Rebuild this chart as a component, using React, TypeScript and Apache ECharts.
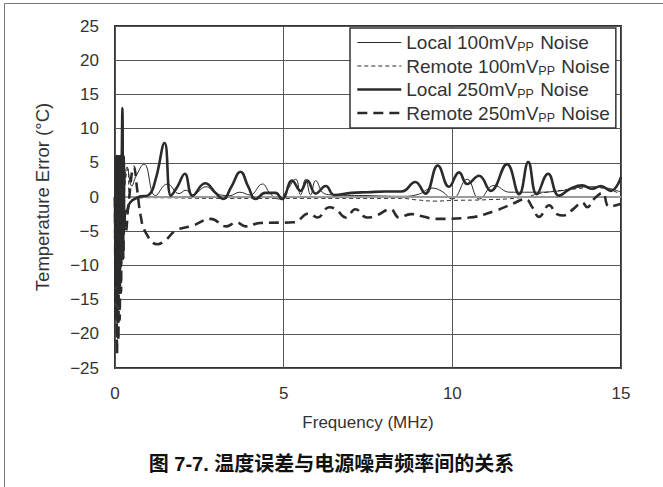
import React, { useEffect, useRef } from "react";
import * as echarts from "echarts";

// ---- data (frequency in MHz, temperature error in °C) ----
const local100F = [0, 0.02, 0.04, 0.06, 0.08, 0.1, 0.12, 0.14, 0.16, 0.18, 0.2, 0.24, 0.28, 0.36, 0.5, 0.62, 0.86, 1.2, 1.55, 1.9, 2.1, 2.3, 2.7, 3.0, 3.4, 3.7, 4.0, 4.37, 4.6, 4.86, 5.1, 5.36, 5.5, 5.65, 5.8, 5.95, 6.2, 6.5, 7.5, 8.5, 9.0, 9.4, 9.7, 10.0, 10.44, 10.8, 11.24, 11.7, 12.5, 13.2, 14.0, 14.6, 15];
const local100V = [0, -5, 4, -15, 3, -12, 5, -8, 4, -6, 3, -3, 1, 4.4, 1.6, 3, 4.8, 0.2, 1.9, 0.5, 1.0, 0.3, 1.5, 0.5, 0.2, 0.7, 0.3, 1.9, 0.5, -0.3, 1.0, 2.6, 0.3, 2.6, 0.3, 2.4, 0.5, 0.3, 0.2, 0.1, 0.4, 1.3, 0.8, -0.3, 2.6, -0.3, 1.7, 0.7, 0.7, 0.9, 1.5, 1.3, 0.7];

const remote100F = [0, 0.02, 0.04, 0.06, 0.08, 0.1, 0.12, 0.14, 0.16, 0.18, 0.22, 0.26, 0.3, 0.38, 0.45, 0.6, 1.0, 3.0, 6.0, 8.5, 8.9, 9.5, 10.0, 11.0, 12.0, 12.8, 13.5, 14.2, 14.7, 15];
const remote100V = [0, -8, 3, -20, 2, -17, 4, -12, 3, -8, 2, -3, 2, 4.1, -1, -0.2, -0.1, -0.2, -0.2, -0.2, -0.4, -0.6, -0.5, -0.4, -0.1, 0.7, 1.1, 1.4, 1.0, 0.4];

const local250F = [0, 0.02, 0.04, 0.06, 0.08, 0.1, 0.12, 0.14, 0.16, 0.18, 0.2, 0.22, 0.24, 0.26, 0.28, 0.3, 0.36, 0.45, 0.7, 1.0, 1.2, 1.47, 1.66, 1.85, 2.07, 2.3, 2.67, 3.0, 3.2, 3.45, 3.72, 3.95, 4.17, 4.45, 4.76, 4.95, 5.25, 5.5, 5.7, 5.95, 6.25, 6.5, 7.0, 7.5, 8.0, 8.5, 8.9, 9.2, 9.57, 9.9, 10.2, 10.44, 10.79, 11.14, 11.62, 11.98, 12.25, 12.5, 12.84, 13.16, 13.5, 13.85, 14.15, 14.4, 14.7, 15];
const local250V = [0, -12, 6, -14, 6, -13, 6, -11, 6, -8, 5, 13, -9, 6, -4, -2.2, -2, -0.8, 0, 0.3, 2.5, 7.9, 0.2, 1.5, 3.4, 0.2, 2.0, 0.5, -0.3, 1.5, 3.7, 1.5, -0.3, 0.6, 0.6, -0.3, 2.4, 0.9, 2.4, 0.5, 1.6, 0.3, 0.6, 0.7, 0.8, 0.8, 2.2, 0.5, 4.6, 1.5, 3.6, 1.9, 3.1, 0.9, 4.8, 0.4, 5.1, 0.4, 3.4, 0.2, 1.2, 1.7, 1.2, 1.6, 0.9, 2.9];

const remote250F = [0, 0.02, 0.04, 0.06, 0.08, 0.1, 0.12, 0.14, 0.16, 0.18, 0.2, 0.24, 0.28, 0.32, 0.4, 0.56, 0.66, 0.76, 0.9, 1.25, 1.5, 1.8, 2.3, 2.84, 3.3, 3.6, 3.87, 4.3, 5.3, 5.75, 6.0, 6.35, 6.55, 6.84, 7.13, 7.47, 7.75, 8.17, 8.42, 8.77, 9.1, 9.5, 10.5, 11.28, 11.78, 12.17, 12.37, 12.57, 12.87, 13.1, 13.3, 13.6, 13.85, 14.0, 14.2, 14.45, 14.65, 15];
const remote250V = [0, -18, 2, -23, 0, -21, 1, -18, -2, -14, -3, -9, -3, -5, -1, 4.4, 1, -2.7, -5.1, -6.9, -6.3, -4.9, -4.2, -3.2, -4.3, -3.7, -4.3, -3.8, -3.7, -2.4, -3.0, -1.5, -1.8, -3.0, -1.8, -3.0, -2.7, -1.8, -3.0, -2.5, -2.8, -3.2, -3.0, -2.0, -1.0, -0.3, -1.5, -2.9, -1.2, -2.5, -2.7, -1.7, -0.8, -1.5, -0.3, 0.6, -1.4, -1.0];

const seriesPrefixes = ["Local 100mV", "Remote 100mV", "Local 250mV", "Remote 250mV"];
const xTickLabels = ["0", "5", "10", "15"];
const yTickValues = [-25, -20, -15, -10, -5, 0, 5, 10, 15, 20, 25];

const zip = (f: number[], v: number[]) => f.map((x, i) => [x, v[i]]);

const FONT = "'Liberation Sans', Arial, Helvetica, sans-serif";

export default function App() {
  const ref = useRef<HTMLDivElement>(null);
  useEffect(() => {
    if (!ref.current) return;
    const chart = echarts.init(ref.current, undefined, { renderer: "svg" });
    const names = seriesPrefixes.map((p) => p + "PP Noise");
    const styles = [
      { width: 1, type: "solid" as const },
      { width: 1, type: [4, 3] as any },
      { width: 2.6, type: "solid" as const },
      { width: 2.6, type: [10, 6] as any },
    ];
    const datas = [
      zip(local100F, local100V),
      zip(remote100F, remote100V),
      zip(local250F, local250V),
      zip(remote250F, remote250V),
    ];
    const series: any[] = names.map((n, i) => ({
      name: n,
      type: "line",
      data: datas[i],
      smooth: 0.45,
      symbol: "none",
      showSymbol: false,
      lineStyle: { color: "#2b2b2b", width: styles[i].width, type: styles[i].type },
      itemStyle: { color: "#2b2b2b" },
      z: 3 + i,
      ...(i === 0
        ? {
            markLine: {
              silent: true,
              symbol: ["none", "none"],
              label: { show: false },
              lineStyle: { color: "#9a9a9a", width: 2, type: "solid" },
              data: [{ yAxis: 0 }],
            },
          }
        : {}),
    }));

    chart.setOption({
      animation: false,
      backgroundColor: "#fff",
      title: {
        text: "图 7-7. 温度误差与电源噪声频率间的关系",
        left: "center",
        top: 449,
        textStyle: {
          fontFamily: "'Liberation Sans', 'Noto Sans CJK SC', sans-serif",
          fontWeight: "bold",
          fontSize: 20,
          color: "#111",
        },
      },
      graphic: [
        { type: "line", shape: { x1: 4.5, y1: 3.5, x2: 663, y2: 3.5 }, style: { stroke: "#777", lineWidth: 1 } },
        { type: "line", shape: { x1: 4.5, y1: 3.5, x2: 4.5, y2: 487 }, style: { stroke: "#777", lineWidth: 1 } },
      ],
      grid: {
        left: 115,
        right: 42,
        top: 26,
        bottom: 119,
        show: true,
        borderColor: "#333",
        borderWidth: 2,
        backgroundColor: "#fff",
        containLabel: false,
      },
      legend: {
        orient: "vertical",
        left: 350,
        top: 28,
        data: names.map((n, i) => ({
          name: n,
          lineStyle: { color: "#2b2b2b", width: styles[i].width, type: styles[i].type },
          itemStyle: { color: "transparent", borderWidth: 0, opacity: 0 },
        })),
        backgroundColor: "#fff",
        borderColor: "#333",
        borderWidth: 1.5,
        borderRadius: 0,
        padding: [5, 6, 4, 6],
        itemGap: 3,
        itemWidth: 44,
        itemHeight: 20,
        itemStyle: { color: "transparent", borderWidth: 0, opacity: 0 },
        formatter: (name: string) => {
          const i = names.indexOf(name);
          return `{t|${seriesPrefixes[i]}}{s|PP}{t| Noise}`;
        },
        textStyle: {
          fontFamily: FONT,
          fontSize: 19,
          color: "#333",
          rich: {
            t: { fontFamily: FONT, fontSize: 19, color: "#333", lineHeight: 22, verticalAlign: "middle" },
            s: { fontFamily: FONT, fontSize: 12.5, color: "#333", lineHeight: 12, verticalAlign: "bottom", padding: [0, 1, 0, 0] },
          },
        },
      },
      xAxis: {
        type: "value",
        min: 0,
        max: 15,
        interval: 5,
        name: "Frequency (MHz)",
        nameLocation: "middle",
        nameGap: 46,
        nameTextStyle: { fontFamily: FONT, fontSize: 17, color: "#333" },
        axisLine: { show: false },
        axisTick: { show: false },
        axisLabel: {
          fontFamily: FONT,
          fontSize: 17,
          color: "#333",
          margin: 17,
          formatter: (v: number) => xTickLabels[Math.round(v / 5)] ?? String(v),
        },
        splitLine: { show: true, lineStyle: { color: "#555", width: 1 } },
      },
      yAxis: {
        type: "value",
        min: yTickValues[0],
        max: yTickValues[yTickValues.length - 1],
        interval: 5,
        name: "Temperature Error (°C)",
        nameLocation: "middle",
        nameGap: 63,
        nameTextStyle: { fontFamily: FONT, fontSize: 18.5, color: "#333" },
        axisLine: { show: false },
        axisTick: { show: false },
        axisLabel: {
          fontFamily: FONT,
          fontSize: 17,
          color: "#333",
          margin: 16,
          formatter: (v: number) => (v < 0 ? "\u2212" + Math.abs(v) : String(v)),
        },
        splitLine: { show: true, lineStyle: { color: "#555", width: 1 } },
      },
      series,
    });
    return () => chart.dispose();
  }, []);
  return <div ref={ref} style={{ width: 663, height: 487, position: "absolute", left: 0, top: 0 }} />;
}
